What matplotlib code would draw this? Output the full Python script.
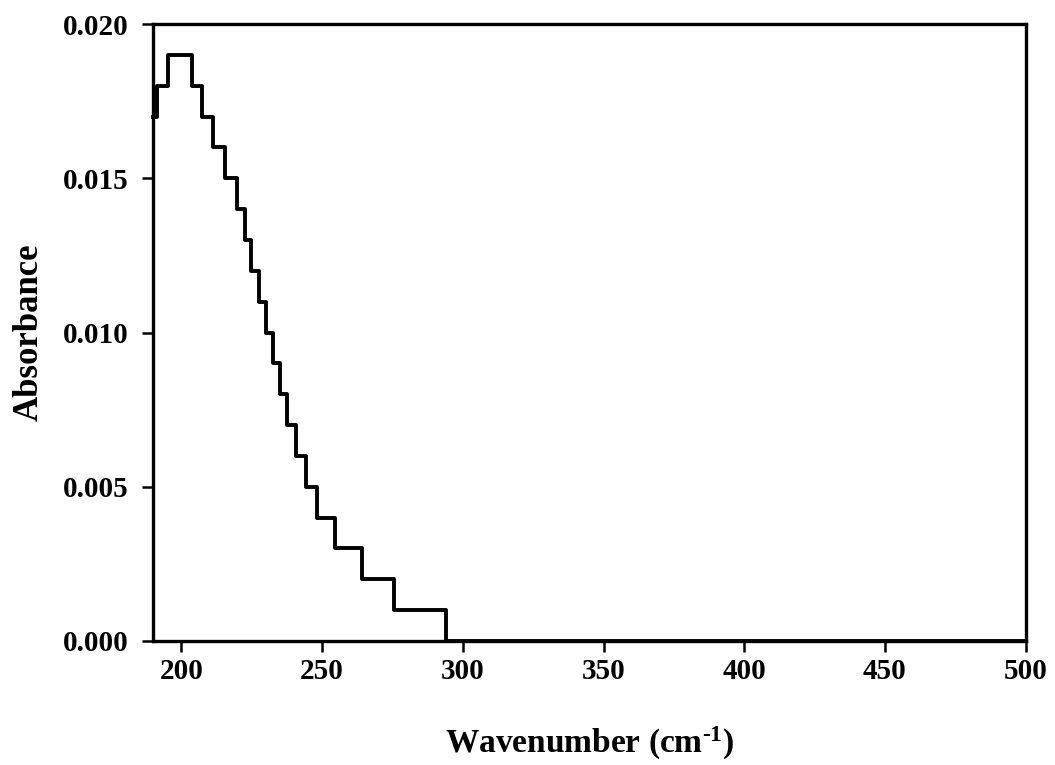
import matplotlib
matplotlib.use('AGG')

import matplotlib.pyplot as plt
import numpy as np

# step edges (cm-1) and absorbance levels
wavenumber = [190, 191.2, 195.1, 203.7, 207.2, 211.2, 215.5, 219.6, 222.6,
              224.7, 227.6, 230.1, 232.4, 234.9, 237.6, 240.6, 244.3, 248.1,
              254.6, 264.3, 275.6, 294.1, 500]
absorbance = [0.017, 0.018, 0.019, 0.018, 0.017, 0.016, 0.015, 0.014, 0.013,
              0.012, 0.011, 0.010, 0.009, 0.008, 0.007, 0.006, 0.005, 0.004,
              0.003, 0.002, 0.001, 0.000, 0.000]

x_ticks = [200, 250, 300, 350, 400, 450, 500]
y_ticks = [0.000, 0.005, 0.010, 0.015, 0.020]

plt.rcParams['font.family'] = ['Liberation Serif', 'DejaVu Serif']
plt.rcParams['font.weight'] = 'bold'
plt.rcParams['mathtext.fontset'] = 'custom'
plt.rcParams['mathtext.rm'] = 'Liberation Serif:bold'
plt.rcParams['mathtext.bf'] = 'Liberation Serif:bold'
plt.rcParams['mathtext.default'] = 'bf'

fig = plt.figure(figsize=(10.55, 7.65), dpi=100)
ax = fig.add_axes([0.1453, 0.1621, 0.8269, 0.8065])

ax.step(wavenumber, absorbance, where='post', color='black', lw=2.8,
        clip_on=False, zorder=3)

ax.set_xlim(190, 500)
ax.set_ylim(0, 0.020)
ax.set_xticks(x_ticks)
ax.set_yticks(y_ticks)
ax.set_yticklabels([f"{v:.3f}" for v in y_ticks])

for s in ax.spines.values():
    s.set_linewidth(2.4)
ax.tick_params(direction='out', length=8, width=1.8, labelsize=21)
ax.tick_params(axis='y', pad=10)
ax.tick_params(axis='x', pad=4)
for lab in ax.get_xticklabels() + ax.get_yticklabels():
    lab.set_fontweight('bold')

ax.set_xlabel(r'Wavenumber (cm$^{\text{-}1}$)', fontsize=24,
              fontweight='bold', labelpad=29)
ax.set_ylabel('Absorbance', fontsize=25, fontweight='bold', labelpad=12)

plt.savefig('out.png', dpi=100)
plt.close()
